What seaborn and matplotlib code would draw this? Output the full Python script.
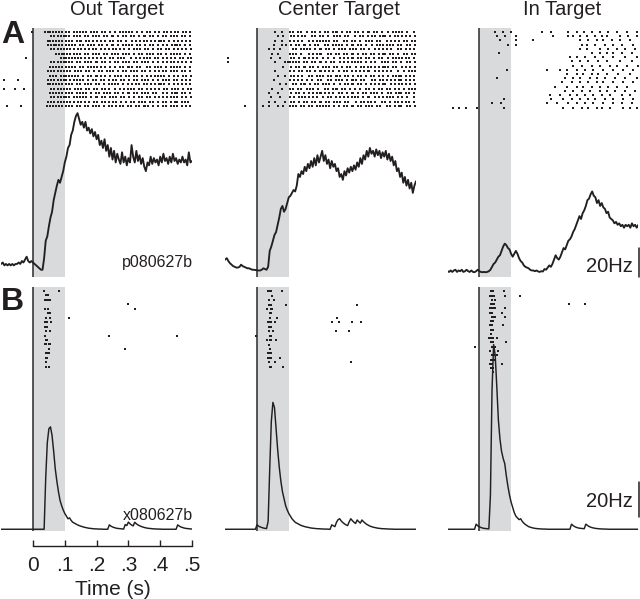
import numpy as np
import pandas as pd
import seaborn as sns
import matplotlib
import matplotlib.pyplot as plt

matplotlib.use('Agg')

# --------------------------------------------------------------------------
# Data
# --------------------------------------------------------------------------
conditions = ['Out Target', 'Center Target', 'In Target']
row_labels = ['A', 'B']
cell_ids = ['p080627b', 'x080627b']
time_ticks = [0, 0.1, 0.2, 0.3, 0.4, 0.5]
time_tick_labels = ['0', '.1', '.2', '.3', '.4', '.5']
scale_bar_hz = 20

# PSTH sample times (s): 5 ms steps from -0.1 to 0.5
psth_t = np.round(np.arange(121) * 0.005 - 0.1, 3)

# firing rates (Hz), 121 samples each
rate_a_out = [6, 7, 5, 6, 5, 6, 5, 6, 5, 6, 6, 7, 6, 8, 7, 9, 11, 8, 7, 8, 7,
              6, 5, 4, 3, 2, 2, 10, 22, 25, 32,
              38, 42, 50, 55, 60, 64, 62, 66, 70, 76,
              80, 86, 88, 95, 98, 104, 108, 110, 106, 102,
              104, 100, 104, 98, 100, 96, 99, 94, 97, 92,
              95, 88, 91, 86, 92, 84, 88, 80, 86, 78,
              84, 76, 82, 78, 75, 83, 76, 80, 74, 79,
              76, 88, 80, 76, 84, 77, 81, 75, 79, 73,
              70, 76, 74, 80, 75, 79, 76, 78, 74, 80,
              76, 82, 77, 79, 75, 80, 76, 82, 77, 79,
              75, 78, 76, 80, 76, 78, 74, 83, 76, 77]
rate_a_center = [9, 10, 8, 6.5, 5.5, 4.5, 4, 3.5, 3.5, 4, 5.5, 4.5, 4, 3.5, 3, 3, 2.5, 2, 2, 1.8, 1.6,
                 1.5, 1.5, 2, 3, 2.5, 2, 4, 15, 18, 22,
                 26, 28, 33, 38, 44, 46, 42, 44, 48, 52,
                 53, 55, 57, 56, 60, 68, 66, 70, 68, 73,
                 70, 75, 72, 77, 73, 79, 74, 81, 76, 80,
                 84, 77, 81, 75, 78, 72, 77, 73, 75, 70,
                 72, 66, 68, 64, 70, 67, 72, 69, 73, 70,
                 74, 71, 76, 73, 79, 75, 81, 78, 84, 80,
                 86, 82, 84, 80, 85, 81, 84, 79, 83, 80,
                 84, 78, 82, 77, 80, 74, 77, 70, 72, 66,
                 69, 62, 66, 60, 64, 58, 62, 55, 60, 63]
rate_a_in = [1, 0.5, 1.5, 0.5, 1.5, 2, 0.5, 1.5, 1, 2, 0.5, 1, 2, 1, 0.5, 1.5, 0.5, 0.3, 1, 2, 1,
             0.5, 0.3, 0.5, 0.3, 0.5, 1, 2, 4, 6, 7,
             9, 11, 12, 15, 18, 20, 19, 17, 16, 13,
             11, 13, 15, 13, 10, 8, 7, 5, 4, 3.5,
             3, 2, 1.5, 1.5, 1, 1.5, 0.8, 0.5, 1, 0.8,
             2.5, 2, 3.5, 5, 4, 6, 9, 12, 10, 9,
             11, 14, 17, 16, 19, 22, 23, 25, 28, 30,
             33, 36, 39, 37, 41, 43, 46, 50, 51, 54,
             56, 53, 52, 48, 50, 46, 48, 45, 44, 41,
             42, 38, 37, 36, 34, 35, 33, 34, 32, 33,
             31, 33, 32, 33, 31, 34, 32, 33, 31, 33]
rate_b_out = [0.5] * 21 + [
    0.5, 0.5, 0.5, 0.5, 0.5, 0.5, 0.5, 30, 50, 58,
    59, 54, 45, 35, 28, 22, 17, 14, 11.5, 9.5,
    8, 6.5, 7, 5.5, 4.5, 4, 3.5, 3, 2.6, 2.3,
    2, 1.7, 1.5, 1.3, 1.1, 1, 0.9, 0.8, 0.7, 0.7,
    0.6, 0.6, 0.6, 0.5, 0.5, 0.5, 0.5, 3, 2.3, 1.8,
    1.5, 1.2, 1, 0.9, 0.8, 0.7, 0.6, 3.2, 2.6, 4.6,
    3.6, 2.9, 2.4, 4.5, 3.6, 3, 2.5, 2.1, 1.8, 1.5,
    1.3, 1.1, 1, 0.9, 0.8, 0.7, 0.7, 0.6, 0.6, 0.6,
    0.5, 0.5, 0.5, 0.5, 0.5, 0.5, 0.5, 0.5, 0.5, 0.5,
    3, 2.3, 1.8, 1.5, 1.2, 1, 0.9, 0.8, 0.7, 0.6]
rate_b_center = [0.5] * 20 + [3] + [
    2.3, 1.8, 1.5, 1.2, 1, 0.9, 5, 35, 62, 73,
    70, 58, 46, 36, 28, 22, 18, 14, 11.5, 9.5,
    8, 6.5, 5.5, 4.5, 4, 3.5, 3, 2.6, 2.3, 2,
    1.8, 1.6, 1.4, 1.2, 1.1, 1, 0.9, 0.8, 0.8, 0.7,
    0.7, 0.6, 0.6, 0.6, 0.5, 0.5, 3, 2.5, 2, 4.5,
    6, 6.5, 5.2, 4.3, 3.6, 3, 2.6, 4.8, 6.5, 5.4,
    4.5, 3.8, 5.8, 4.8, 4, 5.8, 4.8, 4, 3.3, 2.8,
    2.3, 2, 1.7, 1.5, 1.3, 1.1, 1, 0.9, 0.8, 0.8,
    0.7, 0.7, 0.6, 0.6, 0.6, 0.5, 0.5, 0.5, 0.5, 0.5,
    0.5, 0.5, 0.5, 0.5, 0.5, 0.5, 0.5, 0.5, 0.5, 0.5]
rate_b_in = [0.5] * 18 + [3.4, 2.5, 1.9] + [
    1.5, 1.2, 1, 0.9, 0.8, 0.7, 20, 80, 106, 100,
    82, 63, 52, 45, 41, 38, 31, 25, 20, 16,
    13, 10, 8, 7, 6, 6.5, 5, 4, 3.2, 2.6,
    2, 1.7, 1.4, 1.2, 1, 0.9, 0.8, 0.7, 0.7, 0.6,
    0.6, 0.6, 0.5, 0.5, 0.5, 0.5, 0.5, 0.5, 0.5, 0.5,
    0.5, 0.5, 0.5, 0.5, 0.5, 0.5, 0.5, 3.4, 2.6, 2,
    1.6, 1.3, 1.1, 1, 0.9, 0.8, 3.4, 2.7, 2.1, 1.7,
    1.4, 1.2, 1, 0.9, 0.8, 0.7, 0.7, 0.6, 0.6, 0.6,
    0.5, 0.5, 0.5, 0.5, 0.5, 0.5, 0.5, 0.5, 0.5, 0.5,
    0.5, 0.5, 0.5, 0.5, 0.5, 0.5, 0.5, 0.5, 0.5, 0.5]

# dense rasters: one string per trial, 5 ms bins from -0.1 s, 'o' = spike
raster_a_out = [
    ".......... .........o .......o.o o.o.o.o.o. o.o..o.o.o .o.o..o.o. o..o.o..o. .o..o.o.o. o.o..o..o. .o.o..o..o ..o.o.o..o .o..o.o.o.",
    ".......... .......... .......... .o.o.o.o.o o.o..o.o.o ..o.o..o.o .o..o.o..o o..o..o.o. .o.o..o..o o..o.o..o. .o.o..o.o. o..o.o..o.",
    ".......... .......... .........o o.o.o.o.o. o.o.o..o.o o..o.o.o.. o.o..o..o. o..o.o..o. ..o.o..o.o .o..o.o..o o.o..o..o. .o.o..o.o.",
    ".......... .......... .........o .o.oo.o.o. o.o.o.o..o .o..o.o.o. .o.o..o..o o..o..o.o. o.o..o.o.. o..o.o..o. .o..o..o.o o.o..o..o.",
    ".......... .......... .......... .o.o.o.o.o .o.o.o..o. o.o..o.o.o ..o..o.o.. o.o.o..o.. o..o.o.o.. o.o..o..o. o..o.o..o. .o.o..o..o",
    ".......... .......... .......... ....o.o.oo .o.o.o.o.o ..o.o..o.o .o..o.o..o .o.o..o.o. o..o..o.o. .o.o.o..o. o..o..o.o. o.o..o..o.",
    ".......... .....o.... .......... .......o.o o.o.o.o.o. o.o..o.o.. o.o..o..o. o..o.o.o.. .o..o..o.o .o.o..o.o. .o..o.o..o ..o.o..o.o",
    ".......... .......... .......... .o.o.o.o.o o.o.o..o.o ..o.o.o..o o..o.o..o. .o.o..o.o. o..o.o..o. o.o..o..o. .o..o.o.o. .o.o..o..o",
    ".......... .......... .......... o.o.o.o.o. o.o.o.o..o .o..o.o.o. o.o..o..o. .o..o.o..o o.o..o.o.. .o.o..o.o. o..o..o.o. o.o..o..o.",
    ".......... .......... .........o .o.o.o.o.o .o.o..o.o. o..o.o..o. .o.o..o.o. o..o..o.o. .o.o.o..o. o..o..o..o .o.o..o.o. o..o.o..o.",
    ".......... .......... .......... o.o.o..o.o o.o.o.o.o. .o..o.o..o o.o..o..o. .o.o.o..o. o..o.o..o. .o..o.o.o. o.o..o..o. .o..o.o..o",
    ".o........ o......... .........o .o.o.o.o.o o..o.o.o.o .o..o..o.o ..o.o..o.. o.o..o.o.. o..o.o..o. o.o..o..o. .o.o.o..o. o..o..o.o.",
    ".......... .......... .........o o.o.o.o.o. o.o.o..o.o ..o.o.o..o .o..o..o.o .o.o..o..o ..o.o.o..o .o..o.o..o o.o..o..o. .o.o..o.o.",
    ".o......o. ....o..... .......... .o.o.o.o.o .o.o..o.o. o..o.o..o. o..o.o.o.. .o..o..o.o .o.o..o.o. .o..o.o..o ..o.o..o.o .o..o..o.o",
    ".......... .......... .......... o.o.o.o.o. o.o.o..o.o .o.o..o..o .o..o.o.o. .o.o..o..o o..o.o..o. o.o..o.o.. .o..o..o.o o..o.o..o.",
    ".......... .......... .......... .o.o.o.o.o o.o..o.o.o .o.o..o..o o..o.o..o. o.o..o.o.. o..o..o.o. .o.o..o..o .o..o.o.o. o..o..o..o",
    ".......... .......... .........o .o.o.o.o.o .o.o.o..o. o.o..o..o. o..o.o.o.. o.o..o..o. .o.o..o.o. o..o.o..o. .o.o..o..o o..o.o.o..",
    "...o...... ..o....... ........o. o.o.o.o.o. o.o.o..o.o ..o.o..o.o .o..o..o.o ..o.o.o..o .o..o.o..o o.o..o..o. .o.o..o.o. o..o..o.o.",
]
raster_a_center = [
    ".......... .......... .......... .o...o.... o.o..o.o.. .o..o.o..o ..o.o..o.o o..o..o.o. .o.o..o..o o..o.o..o. ..o..o.o.o .o..o...o.",
    ".......... .......... .......... ...o..o... .o.o.o..o. o...o.o..o .o..o...o. o.o..o.o.. .o..o.o..o ..o.o..o.o o..o..o.o. .o.o..o..o",
    ".......... .......... .......... .o...o.... o..o.o..o. ..o..o.o.o .o.o.o..o. o...o.o..o .o..o...o. o.o..o.o.. .o..o.o..o ..o.o..o.o",
    ".......... .......... .......... o....o..o. .o..o.o..o o..o..o.o. ..o.o..o.o .o.o..o..o o..o.o..o. ..o..o.o.o .o.o.o..o. o...o.o..o",
    ".......... .......... .......o.. o...o..... ..o.o..o.o .o.o..o..o o..o.o..o. .o.o.o..o. o.o..o.o.. o...o.o..o .o..o...o. o..o..o.o.",
    ".......... .......... .........o ...o...... o.o.o..o.. ..o..o.o.o o...o.o..o .o..o.o..o o..o..o.o. .o.o..o..o o..o.o..o. ..o.o..o.o",
    ".o........ .......... ........o. ....o..... .o.o..o..o o.o..o.o.. .o..o...o. ..o.o..o.o o..o.o..o. o..o..o.o. ..o..o.o.o .o.o.o..o.",
    ".o........ .......... .......... .o.....o.o o.o.o.o..o .o..o.o..o o..o..o.o. ..o.o..o.o .o.o.o..o. .o..o...o. o.o..o.o.. o...o.o..o",
    ".......... .......... .......... ......o... .o..o.o..o o..o.o..o. .o.o.o..o. o..o..o.o. ..o..o.o.o .o..o.o..o o.o..o.o.. .o.o..o..o",
    ".......... .......... .......... .o........ o..o..o.o. .o.o..o..o o.o..o.o.. .o..o.o..o ..o.o..o.o o...o.o..o .o..o...o. ..o..o.o.o",
    ".......... .......... .......... ...o...o.. .o.o.o..o. ..o.o..o.o .o..o.o..o o.o..o.o.. o..o.o..o. .o.o..o..o ..o..o.o.o o..o..o.o.",
    ".......... .......... .......... o......... o..o.o..o. .o..o...o. o...o.o..o .o.o..o..o o.o..o.o.. ..o.o..o.o .o..o.o..o o..o..o.o.",
    ".......... .......... .......... ....o...o. ..o.o..o.o o..o..o.o. .o.o.o..o. ..o..o.o.o o..o.o..o. .o..o.o..o o...o.o..o .o.o..o..o",
    ".......... .......... .........o .....o.... o.o..o.o.. .o.o.o..o. ..o.o..o.o o..o.o..o. .o..o...o. o..o..o.o. .o.o..o..o ..o..o.o.o",
    ".......... .......... .......o.. ...o...... .o..o.o..o ..o..o.o.o o.o..o.o.. .o.o..o..o o..o..o.o. .o.o.o..o. ..o.o..o.o o..o.o..o.",
    ".......... .......... ........o. ....o..... o..o..o.o. o.o..o.o.. .o..o.o..o ..o.o..o.o .o.o..o..o o...o.o..o .o.o.o..o. .o..o...o.",
    ".......... .......... .......o.. .o.....o.. .o.o..o..o .o..o.o..o o..o.o..o. o.o..o.o.. ..o..o.o.o .o..o...o. o..o..o.o. .o.o.o..o.",
    ".......... ..o....... ...o...o.. ...o..o... o.o.o..o.o ..o.o..o.o .o.o.o..o. .o..o.o..o o..o.o..o. o.o..o.o.. .o.o..o..o o...o.o..o",
]

# sparse rasters: spike times (s) per trial
raster_a_in = [
    [0.049, 0.073, 0.099, 0.196, 0.227, 0.280, 0.306, 0.329, 0.353, 0.379, 0.406, 0.432, 0.463, 0.497],
    [0.055, 0.081, 0.115, 0.233, 0.280, 0.296, 0.317, 0.338, 0.364, 0.385, 0.400, 0.442, 0.469, 0.495],
    [0.065, 0.115, 0.170, 0.317, 0.343, 0.369, 0.390, 0.416, 0.442, 0.474],
    [0.089, 0.115, 0.322, 0.338, 0.364, 0.395, 0.421, 0.448, 0.484],
    [0.317, 0.338, 0.379, 0.406, 0.432, 0.458, 0.490],
    [0.063, 0.353, 0.379, 0.400, 0.421, 0.448, 0.479],
    [0.285, 0.306, 0.332, 0.364, 0.390, 0.421, 0.458, 0.495],
    [0.290, 0.317, 0.343, 0.374, 0.400, 0.442, 0.479],
    [0.296, 0.322, 0.353, 0.379, 0.411, 0.432, 0.463, 0.499],
    [0.086, 0.212, 0.254, 0.275, 0.306, 0.332, 0.358, 0.390, 0.421, 0.453, 0.484],
    [0.275, 0.306, 0.327, 0.353, 0.374, 0.400, 0.437, 0.474],
    [0.057, 0.269, 0.296, 0.317, 0.348, 0.369, 0.395, 0.427, 0.458, 0.495],
    [0.259, 0.290, 0.317, 0.343, 0.369, 0.390, 0.421, 0.453, 0.484],
    [0.238, 0.275, 0.306, 0.327, 0.353, 0.379, 0.406, 0.432, 0.463],
    [0.269, 0.296, 0.322, 0.348, 0.379, 0.400, 0.427, 0.458, 0.490],
    [0.222, 0.254, 0.285, 0.306, 0.332, 0.358, 0.385, 0.411, 0.448, 0.474],
    [0.078, 0.227, 0.264, 0.290, 0.317, 0.343, 0.364, 0.395, 0.421, 0.453, 0.484],
    [0.039, 0.068, 0.212, 0.243, 0.280, 0.306, 0.332, 0.358, 0.390, 0.421, 0.448, 0.479],
    [-0.084, -0.064, -0.042, -0.006, 0.078, 0.264, 0.296, 0.322, 0.343, 0.369, 0.385, 0.411, 0.453, 0.474, 0.495],
]
raster_b_out = [
    [0.035, 0.082], [0.040, 0.047], [0.037, 0.042, 0.047, 0.052], [0.299],
    [0.037, 0.047, 0.320], [0.047, 0.052], [0.042, 0.052, 0.113], [0.039, 0.044, 0.058],
    [0.039, 0.044], [0.040, 0.052], [0.039, 0.240, 0.453], [0.040, 0.045],
    [0.037, 0.042, 0.050, 0.054], [0.050, 0.290], [0.040, 0.045, 0.050], [0.040, 0.045],
    [0.042], [0.042, 0.050],
]
raster_b_center = [
    [0.035, 0.040, 0.045, 0.080], [0.048], [0.038, 0.053], [0.038, 0.043, 0.090, 0.313],
    [0.032, 0.043, 0.048], [0.040, 0.045], [0.040, 0.064, 0.253],
    [0.035, 0.040, 0.045, 0.056, 0.237, 0.258, 0.298, 0.328], [0.038, 0.043],
    [0.038, 0.050, 0.249, 0.289], [-0.003, 0.040, 0.045], [0.032, 0.040, 0.045, 0.061],
    [0.038], [0.042], [0.035, 0.040, 0.045], [0.035, 0.040, 0.045, 0.071],
    [0.038, 0.056, 0.297], [0.040, 0.045, 0.082],
]
raster_b_in = [
    [0.037, 0.042, 0.079], [0.035, 0.040, 0.045, 0.080, 0.129], [0.039, 0.049],
    [0.037, 0.042, 0.047, 0.283, 0.333], [0.034, 0.039, 0.044, 0.049, 0.081],
    [0.035, 0.040, 0.071], [0.039, 0.044, 0.049, 0.081], [0.037, 0.042],
    [0.035, 0.040, 0.075], [0.037, 0.042], [0.037], [0.031, 0.037, 0.042, 0.056],
    [0.037, 0.042, 0.083], [-0.014, 0.039, 0.049], [0.035, 0.045, 0.058],
    [0.039, 0.045, 0.056], [0.037, 0.042, 0.047], [0.035, 0.040, 0.071],
    [0.037, 0.042], [0.044],
]


def bins_to_times(row):
    row = row.replace(' ', '')
    return [-0.1 + 0.005 * (k + 0.5) for k, c in enumerate(row) if c == 'o']


rates = [[rate_a_out, rate_a_center, rate_a_in],
         [rate_b_out, rate_b_center, rate_b_in]]
rasters = [[[bins_to_times(r) for r in raster_a_out],
            [bins_to_times(r) for r in raster_a_center],
            raster_a_in],
           [raster_b_out, raster_b_center, raster_b_in]]

# --------------------------------------------------------------------------
# Layout (pixels of the 640x599 canvas)
# --------------------------------------------------------------------------
W, H = 640, 599
PX_PER_S = 318
col_zero = [33, 257, 479.3]
# per row: panel top/bottom, raster box bottom, y at panel bottom (Hz), px per Hz
row_geom = [dict(top=28, bottom=277, raster_bottom=110, y0=-3, px_hz=1.45, lw=1.35),
            dict(top=287, bottom=531, raster_bottom=376, y0=-0.5, px_hz=1.75, lw=1.05)]
# first/last raster trial pixel rows
raster_rows_px = [[(32, 106), (32, 106), (32, 107.7)],
                  [(291, 366.7), (291.3, 366.7), (291.3, 372.3)]]

INK = '#231f20'
SHADE = '#d9dadb'
ZERO = '#3a3a3a'

sns.set_theme(style='white')
plt.rcParams['font.family'] = ['Liberation Sans', 'DejaVu Sans']

fig = plt.figure(figsize=(W / 100, H / 100), dpi=100)


def px_axes(left, top, width, height):
    return fig.add_axes([left / W, 1 - (top + height) / H, width / W, height / H])


for r, g in enumerate(row_geom):
    for c, x0 in enumerate(col_zero):
        left = x0 - 0.1 * PX_PER_S
        width = 0.6 * PX_PER_S
        ax = px_axes(left, g['top'], width, g['bottom'] - g['top'])
        ax.axvspan(0, 0.1, color=SHADE, lw=0, zorder=0)
        ax.axvline(0, color=ZERO, lw=1.2, zorder=1)
        sns.lineplot(x=psth_t, y=rates[r][c], ax=ax, color=INK, lw=g['lw'],
                     estimator=None, zorder=3)
        ax.set_xlim(-0.1, 0.5)
        ax.set_ylim(g['y0'], g['y0'] + (g['bottom'] - g['top']) / g['px_hz'])
        ax.axis('off')

        # raster overlay
        trials = rasters[r][c]
        df = pd.DataFrame([(i, t) for i, tr in enumerate(trials) for t in tr],
                          columns=['trial', 'time'])
        rbox_h = g['raster_bottom'] - g['top']
        axr = px_axes(left, g['top'], width, rbox_h)
        axr.patch.set_alpha(0)
        sns.scatterplot(data=df, x='time', y='trial', ax=axr, marker='s', s=2.4,
                        color=INK, linewidth=0, legend=False, zorder=4)
        p0, p1 = raster_rows_px[r][c]
        n = len(trials)
        step = (p1 - p0) / (n - 1)
        axr.set_ylim((n - 1) + (g['raster_bottom'] - p1) / step, -(p0 - g['top']) / step)
        axr.set_xlim(-0.1, 0.5)
        axr.axis('off')

        if c == 2:
            # 20 Hz scale bar
            bar_bottom = g['y0'] if r == 0 else 7.5
            ax.plot([0.5015, 0.5015], [bar_bottom, bar_bottom + scale_bar_hz],
                    color=INK, lw=1.1, clip_on=False)

# titles and labels
title_x = [117.5, 338.7, 561.7]
for name, x in zip(conditions, title_x):
    fig.text(x / W, 1 - 15 / H, name, ha='center', va='baseline', fontsize=14.5, color=INK)
for lab, y in zip(row_labels, [43, 310]):
    fig.text(1 / W, 1 - y / H, lab, ha='left', va='baseline', fontsize=23,
             fontweight='bold', color=INK)
for cid, y in zip(cell_ids, [267, 520]):
    fig.text(193 / W, 1 - y / H, cid, ha='right', va='baseline', fontsize=11.5, color=INK)
for y in [272, 507]:
    fig.text(633 / W, 1 - y / H, f'{scale_bar_hz}Hz', ha='right', va='baseline',
             fontsize=14.5, color=INK)

# time axis under the first column
axt = px_axes(col_zero[0] - 0.1 * PX_PER_S, 536, 0.6 * PX_PER_S, 10)
axt.set_xlim(-0.1, 0.5)
axt.patch.set_alpha(0)
for s in ['top', 'left', 'right']:
    axt.spines[s].set_visible(False)
axt.spines['bottom'].set_bounds(0, 0.5)
axt.spines['bottom'].set_color(INK)
axt.spines['bottom'].set_linewidth(1.0)
axt.set_yticks([])
axt.set_xticks(time_ticks)
axt.set_xticklabels(time_tick_labels)
axt.tick_params(axis='x', direction='in', length=4, width=1.0, colors=INK,
                labelsize=15, pad=7, bottom=True)
axt.set_xlabel('Time (s)', fontsize=15, color=INK)
# label sits ~34 px under the axis line (axes is 10 px tall)
axt.xaxis.set_label_coords(0.35 / 0.6, -3.4)

fig.savefig('out.png', dpi=100)
